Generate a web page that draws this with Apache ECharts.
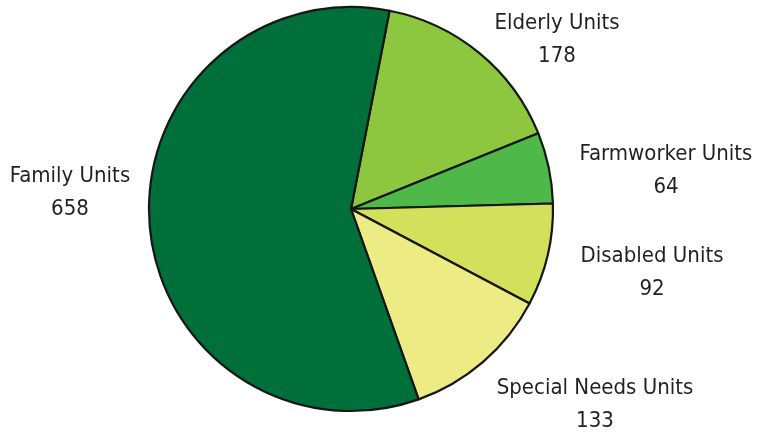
<!DOCTYPE html>
<html>
<head>
<meta charset="utf-8">
<script src="https://cdn.jsdelivr.net/npm/echarts@6/dist/echarts.min.js"></script>
<style>
  html, body { margin: 0; padding: 0; background: #ffffff; }
  #chart { width: 759px; height: 433px; }
</style>
</head>
<body>
<div id="chart"></div>
<script>
// Housing units by type, drawn clockwise starting just right of twelve o'clock
const categories = ['Elderly Units', 'Farmworker Units', 'Disabled Units', 'Special Needs Units', 'Family Units'];
const unitCounts = [178, 64, 92, 133, 658];
const sliceColors = ['#8dc63f', '#4eb848', '#d3e05b', '#edeb84', '#006f3a'];
// label block centres (name + value), px
const labelAnchors = [[557, 40], [666, 171], [652, 273], [595, 405], [70, 193]];

const chart = echarts.init(document.getElementById('chart'), null, { renderer: 'canvas' });

chart.setOption({
  animation: false,
  backgroundColor: '#ffffff',
  series: [{
    type: 'pie',
    center: [351, 209],
    radius: [0, 202],
    startAngle: 79,
    clockwise: true,
    data: categories.map((name, i) => ({
      name: name,
      value: unitCounts[i],
      itemStyle: { color: sliceColors[i] }
    })),
    itemStyle: { borderColor: '#161616', borderWidth: 2.2 },
    label: {
      show: true,
      position: 'outside',
      formatter: '{b}\n{c}',
      align: 'center',
      overflow: 'none',
      fontFamily: '"DejaVu Sans Condensed", "Liberation Sans", sans-serif',
      fontSize: 22,
      lineHeight: 33,
      color: '#231f20'
    },
    labelLine: { show: false },
    labelLayout: function (params) {
      const a = labelAnchors[params.dataIndex];
      return { x: a[0], y: a[1], align: 'center', verticalAlign: 'middle', hideOverlap: false };
    },
    emphasis: { disabled: true }
  }]
});
</script>
</body>
</html>
